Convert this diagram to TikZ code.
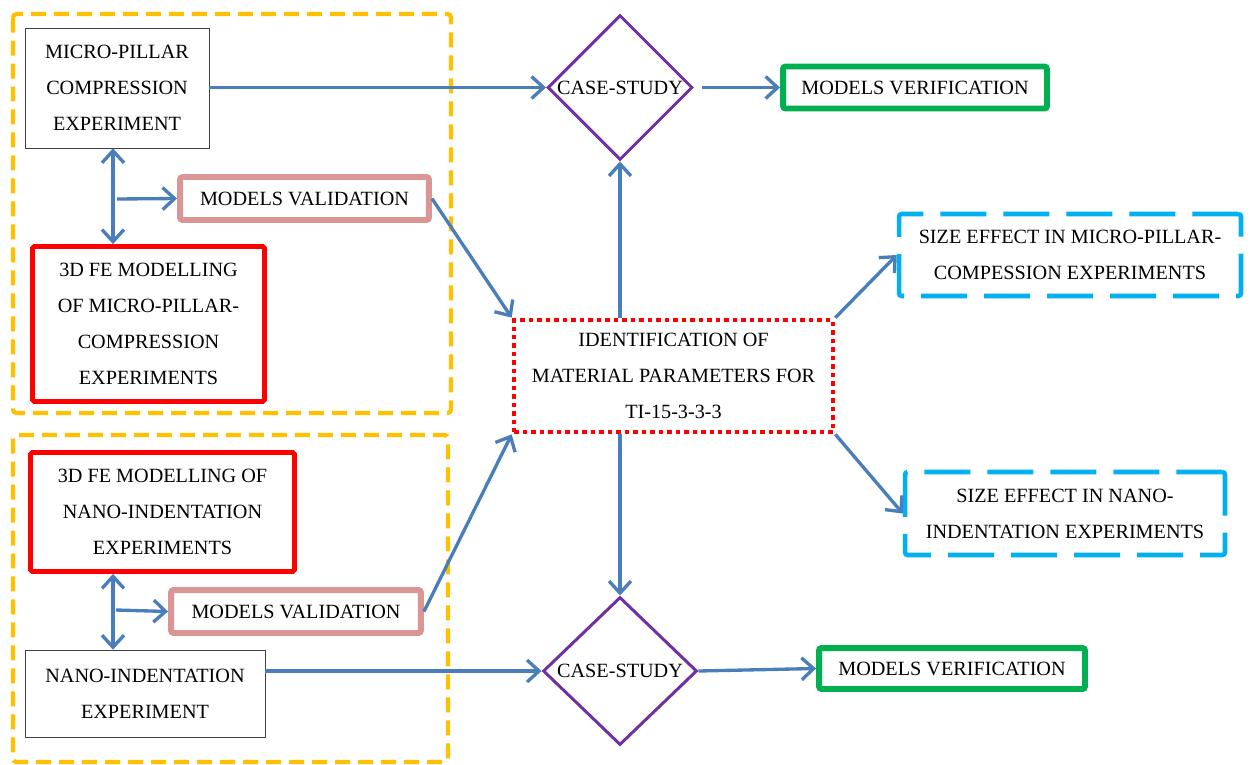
\documentclass[tikz,border=0pt]{standalone}
\usepackage{fontspec}
\setmainfont{Liberation Serif}
\usetikzlibrary{arrows.meta,shapes.geometric}
\definecolor{flowBlue}{RGB}{74,126,187}
\definecolor{caseViolet}{RGB}{112,48,160}
\definecolor{verifGreen}{RGB}{0,176,80}
\definecolor{validPink}{RGB}{217,150,148}
\definecolor{feRed}{RGB}{255,0,0}
\definecolor{sizeCyan}{RGB}{0,176,240}
\definecolor{groupYellow}{RGB}{255,192,0}

\begin{document}
\begin{tikzpicture}[
  x=0.02cm, y=-0.02cm,
  font=\fontsize{11.5}{20.4}\selectfont,
  expbox/.style={
    draw=black!75,
    thin,
    align=center,
    inner sep=0pt
  },
  febox/.style={
    draw=feRed,
    line width=2.8pt,
    rounded corners=1pt,
    align=center,
    inner sep=0pt
  },
  validbox/.style={
    draw=validPink,
    line width=3.4pt,
    rounded corners=1.5pt,
    minimum width=4.98cm,
    minimum height=0.86cm,
    inner sep=0pt
  },
  verifbox/.style={
    draw=verifGreen,
    line width=3.4pt,
    rounded corners=1.5pt,
    minimum height=0.84cm,
    inner sep=0pt
  },
  casebox/.style={
    diamond,
    draw=caseViolet,
    line width=1.7pt,
    inner sep=0pt
  },
  identbox/.style={
    draw=feRed,
    line width=2.7pt,
    dash pattern=on 0.09cm off 0.08cm,
    minimum width=6.38cm,
    minimum height=2.24cm,
    align=center,
    inner sep=0pt
  },
  sizebox/.style={
    draw=sizeCyan,
    line width=2.6pt,
    dash pattern=on 0.92cm off 0.34cm,
    rounded corners=1.5pt,
    align=center,
    inner sep=0pt
  },
  group/.style={
    draw=groupYellow,
    line width=2.4pt,
    dash pattern=on 0.3cm off 0.16cm,
    rounded corners=2pt
  },
  arrow/.style={-{Straight Barb[length=2.4mm,width=4.4mm]},line width=1.9pt,flowBlue},
  dblarrow/.style={{Straight Barb[length=2.4mm,width=4.4mm]}-{Straight Barb[length=2.4mm,width=4.4mm]},line width=1.9pt,flowBlue}
]
  \useasboundingbox (0,0) rectangle (1250,764);

  % grouping frames
  \draw[group] (13,14) rectangle (451,413);
  \draw[group] (13,435) rectangle (448,762);

  % micro-pillar side
  \node[expbox,minimum width=3.68cm,minimum height=2.4cm] (micro) at (117,88)
    {MICRO-PILLAR\\COMPRESSION\\EXPERIMENT};
  \node[validbox] (valmicro) at (304.5,198.5) {MODELS VALIDATION};
  \node[febox,minimum width=4.64cm,minimum height=3.1cm] (femicro) at (148.5,324)
    {3D FE MODELLING\\OF MICRO-PILLAR-\\COMPRESSION\\EXPERIMENTS};

  % nano-indentation side
  \node[febox,minimum width=5.28cm,minimum height=2.38cm] (fenano) at (162.5,512)
    {3D FE MODELLING OF\\NANO-INDENTATION\\EXPERIMENTS};
  \node[validbox,minimum width=5.0cm] (valnano) at (296,611.5) {MODELS VALIDATION};
  \node[expbox,minimum width=4.8cm,minimum height=1.74cm] (nano) at (145,693.5)
    {NANO-INDENTATION\\EXPERIMENT};

  % centre column
  \node[casebox,minimum width=2.9cm,minimum height=2.9cm] (casemicro) at (620,87.5) {CASE-STUDY};
  \node[identbox] (ident) at (673.5,376)
    {IDENTIFICATION OF\\MATERIAL PARAMETERS FOR\\TI-15-3-3-3};
  \node[casebox,minimum width=3.08cm,minimum height=2.96cm] (casenano) at (620,671) {CASE-STUDY};

  % right column
  \node[verifbox,minimum width=5.28cm] (verifmicro) at (915,87.5) {MODELS VERIFICATION};
  \node[verifbox,minimum width=5.32cm,minimum height=0.82cm] (verifnano) at (952,668.5) {MODELS VERIFICATION};
  \node[sizebox,minimum width=6.84cm,minimum height=1.64cm] (sizemicro) at (1070,255)
    {SIZE EFFECT IN MICRO-PILLAR-\\COMPESSION EXPERIMENTS};
  \node[sizebox,minimum width=6.4cm,minimum height=1.66cm] (sizenano) at (1065,513.5)
    {SIZE EFFECT IN NANO-\\INDENTATION EXPERIMENTS};

  \coordinate (jmicro) at (113,199);
  \coordinate (jnano) at (113,610);

  \draw[arrow] (micro.east |- casemicro.west) -- (casemicro.west);
  \draw[arrow,shorten <=0.16cm] (casemicro.east) -- (verifmicro.west);
  \draw[dblarrow] (jmicro |- micro.south) -- (jmicro |- femicro.north);
  \draw[arrow] ([xshift=0.08cm]jmicro) -- (valmicro.west);
  \draw[arrow] (valmicro.east) -- (ident.north west);
  \draw[arrow] (casemicro.south |- ident.north) -- (casemicro.south);

  \draw[dblarrow] (jnano |- fenano.south) -- (jnano |- nano.north);
  \draw[arrow] ([xshift=0.06cm]jnano) -- (valnano.west);
  \draw[arrow] (valnano.east) -- (ident.south west);
  \draw[arrow] (casenano.north |- ident.south) -- (casenano.north);
  \draw[arrow] (nano.east |- casenano.west) -- (casenano.west);
  \draw[arrow] (casenano.east) -- (verifnano.west);

  \draw[arrow] (ident.north east) -- (sizemicro.west);
  \draw[arrow] (ident.south east) -- (sizenano.west);
\end{tikzpicture}
\end{document}
